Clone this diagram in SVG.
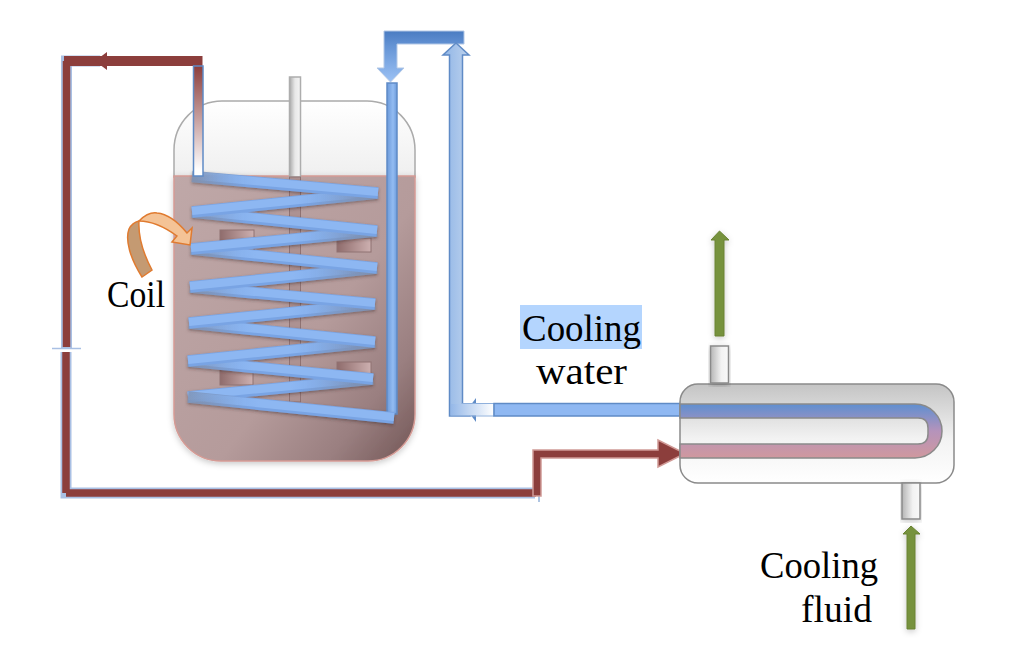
<svg xmlns="http://www.w3.org/2000/svg" width="1024" height="660" viewBox="0 0 1024 660">
<defs>
<linearGradient id="vessel" x1="0" y1="0" x2="1" y2="0.9"><stop offset="0" stop-color="#bfa8a8"/><stop offset="0.6" stop-color="#b59b9b"/><stop offset="0.85" stop-color="#9a7f80"/><stop offset="1" stop-color="#7c6060"/></linearGradient>
<linearGradient id="head" x1="0" y1="0" x2="0" y2="1"><stop offset="0" stop-color="#ffffff"/><stop offset="1" stop-color="#efefef"/></linearGradient>
<linearGradient id="shell" x1="0" y1="0" x2="0" y2="1"><stop offset="0" stop-color="#c4c4c4"/><stop offset="0.55" stop-color="#f2f2f2"/><stop offset="1" stop-color="#ffffff"/></linearGradient>
<linearGradient id="tube" x1="0" y1="0" x2="0" y2="1"><stop offset="0" stop-color="#5f8fd0"/><stop offset="0.5" stop-color="#b593bb"/><stop offset="1" stop-color="#d0989e"/></linearGradient>
<linearGradient id="nozzle" x1="0" y1="0" x2="1" y2="0"><stop offset="0" stop-color="#b5b5b5"/><stop offset="0.6" stop-color="#f2f2f2"/><stop offset="1" stop-color="#f8f8f8"/></linearGradient>
<linearGradient id="shaft" x1="0" y1="0" x2="1" y2="0"><stop offset="0" stop-color="#a9a9a9"/><stop offset="0.5" stop-color="#e8e8e8"/><stop offset="1" stop-color="#f4f4f4"/></linearGradient>
<linearGradient id="fall" x1="0" y1="0" x2="1" y2="0"><stop offset="0" stop-color="#7f93b4" stop-opacity="0.85"/><stop offset="0.3" stop-color="#79a4e4"/><stop offset="1" stop-color="#79a4e4"/></linearGradient>
<linearGradient id="fallHi" x1="0" y1="0" x2="1" y2="0"><stop offset="0" stop-color="#8db7f2" stop-opacity="0"/><stop offset="0.35" stop-color="#8db7f2"/><stop offset="1" stop-color="#8db7f2"/></linearGradient>
<linearGradient id="rise" x1="0" y1="0" x2="1" y2="0"><stop offset="0" stop-color="#79a4e4"/><stop offset="0.6" stop-color="#79a4e4"/><stop offset="1" stop-color="#7f93b4" stop-opacity="0.85"/></linearGradient>
<linearGradient id="riseHi" x1="0" y1="0" x2="1" y2="0"><stop offset="0" stop-color="#8db7f2"/><stop offset="0.55" stop-color="#8db7f2"/><stop offset="0.9" stop-color="#8db7f2" stop-opacity="0"/></linearGradient>
<linearGradient id="vBlue" x1="0" y1="0" x2="1" y2="0"><stop offset="0" stop-color="#6c9ada"/><stop offset="0.6" stop-color="#93bcf2"/><stop offset="1" stop-color="#6c9ada"/></linearGradient>
<linearGradient id="upBlue" x1="0" y1="0" x2="1" y2="0"><stop offset="0" stop-color="#90b5e6"/><stop offset="1" stop-color="#bed3ee"/></linearGradient>
<linearGradient id="bendBlue" x1="0" y1="0" x2="0" y2="1"><stop offset="0" stop-color="#4a7cc2"/><stop offset="0.3" stop-color="#6594d5"/><stop offset="1" stop-color="#9cc2f5"/></linearGradient>
<linearGradient id="fade" x1="0" y1="0" x2="0" y2="1"><stop offset="0" stop-color="#8c3e3c"/><stop offset="0.95" stop-color="#ffffff"/></linearGradient>
<linearGradient id="fadeH" x1="0" y1="0" x2="1" y2="0"><stop offset="0" stop-color="#95b8e8"/><stop offset="1" stop-color="#ffffff"/></linearGradient>
<linearGradient id="paddle" x1="0" y1="0" x2="1" y2="0"><stop offset="0" stop-color="#8f6c6c"/><stop offset="1" stop-color="#cdb0b0"/></linearGradient>
<filter id="sh" x="-10%" y="-10%" width="120%" height="120%"><feDropShadow dx="0" dy="1.500" stdDeviation="1.500" flood-color="#3a2a2a" flood-opacity="0.5"/></filter>
<filter id="soft" x="-10%" y="-10%" width="120%" height="120%"><feDropShadow dx="0" dy="2" stdDeviation="3" flood-color="#000" flood-opacity="0.22"/></filter>
</defs>
<style>
text{font-family:"Liberation Serif","DejaVu Serif",serif;font-size:37.500px;fill:#000}
.fall{stroke:url(#fall);stroke-width:11.500;fill:none}
.rise{stroke:url(#rise);stroke-width:11.500;fill:none}
.fallHi{stroke:url(#fallHi);stroke-width:8;fill:none}
.riseHi{stroke:url(#riseHi);stroke-width:8;fill:none}
.green{fill:#76923c;stroke:#688232;stroke-width:1}
.paddle{fill:url(#paddle);stroke:#8f7272;stroke-width:1}
.noz{fill:url(#nozzle);stroke:#8a8a8a;stroke-width:1.500}
</style>

<g id="vessel-node">
<path d="M174 177V150A48 49 0 0 1 222 101H367A48 49 0 0 1 415 150V177Z" fill="url(#head)" stroke="#ababab" stroke-width="1.500"/>
<path d="M174 176H415V414A47 47 0 0 1 368 461H221A47 47 0 0 1 174 414Z" fill="url(#vessel)" stroke="#d59b95" stroke-width="1.500" filter="url(#soft)"/>
</g>

<g id="agitator">
<rect x="289.500" y="77" width="11" height="100" fill="url(#shaft)" stroke="#adadad" stroke-width="1.500"/>
<rect x="289.500" y="177" width="11" height="225" fill="#ad9292" stroke="#8f7272" stroke-width="1"/>
<rect x="220" y="230" width="34" height="21" class="paddle"/>
<rect x="337" y="238" width="34" height="14" class="paddle"/>
<rect x="220" y="370" width="33" height="15" class="paddle"/>
<rect x="337" y="362" width="34" height="12" class="paddle"/>
</g>

<g id="connectors">
<path d="M66.500 348V61H100M66 352V493H535" fill="none" stroke="#a9c0e4" stroke-width="11"/>
<path d="M52 348.500H81" stroke="#a9c0e4" stroke-width="1.500"/>
<path d="M66.500 347V61M66 352V493M66 493H536" fill="none" stroke="#8c3e3c" stroke-width="7.500"/>
<path d="M64 56H202.500V66H64Z" fill="#8c3e3c"/>
<path d="M107 52V70L95 61Z" fill="#8c3e3c"/>
<path d="M539 496V502" stroke="#5f8bc6" stroke-width="1"/>
<path d="M533 496V450H658V440L685 453.500L658 467V458H541V496Z" fill="#8c3e3c" stroke="#d09a96" stroke-width="1.500"/>

<rect x="387" y="83" width="10" height="331" fill="url(#vBlue)" stroke="#5f8bc6" stroke-width="1.500"/>
<path d="M384 31H464V44H397V68H404L390.500 82L377 68H384Z" fill="url(#bendBlue)" stroke="#b3c8e6" stroke-width="1"/>
<path d="M476 398V422L467 410Z" fill="#5f8bc6"/>
<path d="M449.500 416V55H443L456 43L469 55H462.500V404H470V416Z" fill="url(#upBlue)" stroke="#5f8bc6" stroke-width="1.500"/>
<rect x="451" y="404" width="43" height="11.500" fill="url(#fadeH)"/>
<path d="M450 416H494V403.500H462" fill="none" stroke="#8fb0dc" stroke-width="1"/>
<rect x="494" y="403.500" width="186" height="12.500" fill="#8fb8f2" stroke="#5f8bc6" stroke-width="1.500"/>
</g>

<g id="coil" filter="url(#sh)">
<path class="rise" d="M373 379L188 397"/><path class="riseHi" d="M373 378L188 396"/>
<path class="fall" d="M188 361L373 379"/><path class="fallHi" d="M188 360L373 378"/>
<path class="rise" d="M375 342L188 361"/><path class="riseHi" d="M375 341L188 360"/>
<path class="fall" d="M189 323L375 342"/><path class="fallHi" d="M189 322L375 341"/>
<path class="rise" d="M375 304L189 323"/><path class="riseHi" d="M375 303L189 322"/>
<path class="fall" d="M190 287L375 304"/><path class="fallHi" d="M190 286L375 303"/>
<path class="rise" d="M377 268L190 287"/><path class="riseHi" d="M377 267L190 286"/>
<path class="fall" d="M191 249L377 268"/><path class="fallHi" d="M191 248L377 267"/>
<path class="rise" d="M377 231L191 249"/><path class="riseHi" d="M377 230L191 248"/>
<path class="fall" d="M192 212L377 231"/><path class="fallHi" d="M192 211L377 230"/>
<path class="rise" d="M378 193L192 212"/><path class="riseHi" d="M378 192L192 211"/>
<path class="fall" d="M192 176.500L378 193"/><path class="fallHi" d="M192 175.500L378 192"/>
<path class="fall" d="M188 397L394 418"/><path class="fallHi" d="M188 396L394 417"/>
</g>

<g id="coil-inlet">
<rect x="193.500" y="66" width="9.500" height="110" fill="url(#fade)" stroke="#5f8bc6" stroke-width="1.500"/>
</g>

<g id="coil-label">
<path d="M142 277C130 258 125 240 129 229C131 225 135 222 139 221C138 238 144 255 152 270Z" fill="#c49a72" stroke="#e07b30" stroke-width="1.500"/>
<path d="M139 221C145 215 150 212 157 213C168 214 178 222 187 233L192 228L190 245L172 242L177 236C166 228 152 221 139 221Z" fill="#f4c396" stroke="#e07b30" stroke-width="1.500"/>
<text x="107" y="307" textLength="58" lengthAdjust="spacingAndGlyphs">Coil</text>
</g>

<g id="exchanger">
<rect x="680" y="384" width="274" height="99" rx="18" fill="url(#shell)" stroke="#8a8a8a" stroke-width="1.500"/>
<path d="M680 404H915A27 27 0 0 1 915 458H680V444H918Q928 444 928 434V428Q928 418 918 418H680Z" fill="url(#tube)" stroke="#8a8a8a" stroke-width="1.500"/>
<rect x="710.500" y="346" width="18" height="37" class="noz" filter="url(#soft)"/>
<rect x="902" y="483" width="18" height="36" class="noz" filter="url(#soft)"/>
</g>

<g id="green-arrows" filter="url(#soft)">
<path class="green" d="M715 336V240H711L719.500 231L729 240H724V336Z"/>
<path class="green" d="M907 629V534H903L911 526L920 534H915V629Z"/>
</g>

<g id="labels">
<rect x="520" y="305" width="122" height="44" fill="#b4d5fe"/>
<text x="522" y="341" textLength="119" lengthAdjust="spacingAndGlyphs">Cooling</text>
<text x="536" y="384" textLength="91" lengthAdjust="spacingAndGlyphs">water</text>
<text x="760" y="578" textLength="118" lengthAdjust="spacingAndGlyphs">Cooling</text>
<text x="801" y="622" textLength="71" lengthAdjust="spacingAndGlyphs">fluid</text>
</g>
</svg>
